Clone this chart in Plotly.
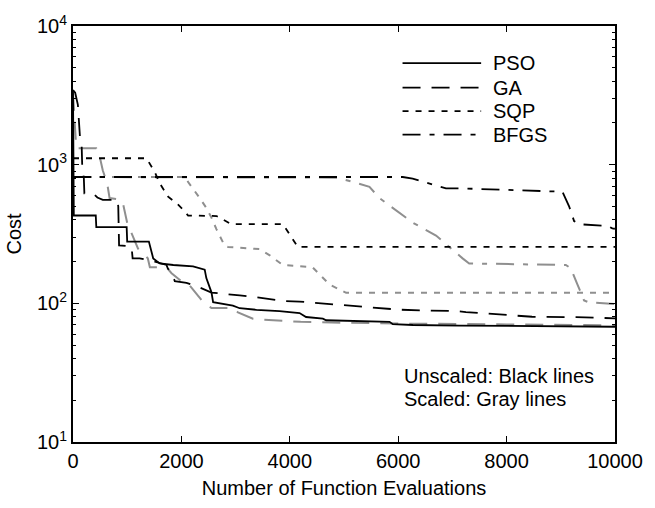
import plotly.graph_objects as go

# ---- data ----
pso_x = [0, 15, 420, 430, 990, 1000, 1400, 1480, 1600, 1850, 2215, 2430, 2460, 2520, 2555, 2585,
         2950, 3075, 3385, 3810, 4180, 4300, 4610, 4670, 5040, 5840, 5900, 6270, 7130, 8000, 10000]
pso_y = [3450, 430, 430, 354, 354, 279, 279, 211, 194, 189, 185, 175, 152, 130, 120, 102,
         96.4, 92.2, 89.8, 87.9, 85.1, 79.7, 77.5, 75.5, 74.7, 73.5, 70.8, 69.8, 69.1, 68.5, 67.8]

ga_x = [0, 40, 90, 130, 160, 170, 200, 210, 370, 450, 550, 820, 835, 850, 1080, 1100, 1230, 1390,
        1510, 1725, 1750, 1818, 1878, 2094, 2340, 2554, 2831, 3076, 3383, 3690, 3873, 4180, 4610,
        4920, 5530, 6020, 6400, 7066, 7250, 7680, 7987, 8470, 9280, 10000]
ga_y = [3450, 3300, 2700, 1550, 1365, 984, 800, 620, 620, 580, 557, 557, 500, 262, 257, 211, 211, 205,
        200, 189, 178, 168, 144.5, 140.6, 130, 119.5, 117, 114, 110.5, 106.7, 104, 103, 100,
        97, 94, 90, 89, 88, 86.5, 84.4, 82, 80, 79.5, 78]

sqp_x = [0, 1357, 1510, 1602, 1755, 1940, 2031, 2124, 2650, 2923, 3873, 4149, 10000]
sqp_y = [1112, 1112, 883, 731, 588, 515, 474, 430, 426, 372, 372, 255, 255]

bfgs_x = [0, 6083, 6267, 6882, 7127, 8109, 8969, 9030, 9153, 9245, 9337, 9705, 9858, 9950, 10000]
bfgs_y = [815, 815, 793, 675, 675, 656, 638, 638, 501, 392, 372, 366, 362, 347, 345]

ga_s_x = [0, 40, 60, 430, 480, 550, 600, 630, 675, 880, 920, 980, 1000, 1200, 1380, 1418, 1725,
          1818, 2031, 2155, 2431, 2554, 2952, 3044, 3320, 3505, 3873, 4200, 5000, 6000, 8000, 10000]
ga_s_y = [3300, 2000, 1312, 1312, 1200, 908, 800, 735, 574, 560, 531, 413, 380, 248, 211, 182, 182,
          165, 141, 134, 99, 92.7, 92.7, 85.9, 77.5, 76.2, 74.7, 73.5, 72.5, 71.5, 70.5, 69.5]

sqp_s_x = [0, 2080, 2124, 2215, 2339, 2462, 2554, 2646, 2738, 2800, 2860, 3444, 3630, 3870,
           4420, 4730, 5040, 10000]
sqp_s_y = [815, 815, 750, 674, 574, 487, 415, 343, 292, 259, 255, 246, 222, 189,
           182, 137, 119, 119]

bfgs_s_x = [0, 4886, 5470, 5654, 6268, 6698, 7188, 7310, 9092, 9184, 9306, 9429, 9521, 10000]
bfgs_s_y = [815, 806, 692, 574, 382, 308, 211, 194, 189, 179, 137, 105, 101.6, 99]

legend_names = ["PSO", "GA", "SQP", "BFGS"]
x_ticks = [0, 2000, 4000, 6000, 8000, 10000]
y_ticks = [10, 100, 1000, 10000]
y_ticktext = ["10<sup>1</sup>", "10<sup>2</sup>", "10<sup>3</sup>", "10<sup>4</sup>"]
y_minor = [m * 10 ** e for e in (1, 2, 3) for m in range(2, 10)]

# ---- styles ----
BLACK = "#000000"
GRAY = "#8f8f8f"
DASH = {"PSO": "solid", "GA": "18px,11px", "SQP": "6px,7px", "BFGS": "18px,9px,5px,9px"}
FONT = "Liberation Sans, Arial, Helvetica, sans-serif"
FS = 20

fig = go.Figure()

def add(x, y, name, color, width):
    fig.add_trace(go.Scatter(x=x, y=y, mode="lines", name=name, showlegend=False,
                             line=dict(color=color, width=width, dash=DASH[name])))

# gray (scaled) first, black on top
add(sqp_s_x, sqp_s_y, "SQP", GRAY, 2)
add(bfgs_s_x, bfgs_s_y, "BFGS", GRAY, 2)
add(ga_s_x, ga_s_y, "GA", GRAY, 2)
add(bfgs_x, bfgs_y, "BFGS", BLACK, 1.8)
add(sqp_x, sqp_y, "SQP", BLACK, 1.8)
add(ga_x, ga_y, "GA", BLACK, 1.8)
add(pso_x, pso_y, "PSO", BLACK, 1.8)

# manual legend
rows_y = [0.9106, 0.8518, 0.7953, 0.7388]
shapes = []
annotations = []
for name, ry in zip(legend_names, rows_y):
    shapes.append(dict(type="line", xref="paper", yref="paper", x0=0.608, x1=0.753, y0=ry, y1=ry,
                       line=dict(color=BLACK, width=1.8, dash=DASH[name])))
    annotations.append(dict(xref="paper", yref="paper", x=0.772, y=ry, text=name, showarrow=False,
                            xanchor="left", yanchor="middle", font=dict(size=FS, color=BLACK, family=FONT)))

annotations.append(dict(xref="paper", yref="paper", x=0.607, y=0.1593, text="Unscaled: Black lines",
                        showarrow=False, xanchor="left", yanchor="middle",
                        font=dict(size=FS, color=BLACK, family=FONT)))
annotations.append(dict(xref="paper", yref="paper", x=0.607, y=0.1042, text="Scaled: Gray lines",
                        showarrow=False, xanchor="left", yanchor="middle",
                        font=dict(size=FS, color=BLACK, family=FONT)))

fig.update_layout(
    width=655, height=508, autosize=False,
    margin=dict(l=73, r=38, t=22, b=55),
    paper_bgcolor="white", plot_bgcolor="white",
    font=dict(family=FONT, size=FS, color=BLACK),
    shapes=shapes, annotations=annotations,
    showlegend=False,
)
fig.update_xaxes(
    range=[0, 10000], tickmode="array", tickvals=x_ticks, ticktext=[str(v) for v in x_ticks],
    ticks="inside", ticklen=6, tickwidth=1, tickcolor=BLACK,
    showline=True, linecolor=BLACK, linewidth=2, mirror="ticks", showgrid=False, zeroline=False,
    title=dict(text="Number of Function Evaluations", standoff=10, font=dict(size=FS)),
    tickfont=dict(size=FS),
)
fig.update_yaxes(
    type="log", range=[1, 4], tickmode="array", tickvals=y_ticks, ticktext=y_ticktext,
    ticks="inside", ticklen=6, tickwidth=1, tickcolor=BLACK,
    minor=dict(tickmode="array", tickvals=y_minor, ticks="inside", ticklen=3, tickcolor=BLACK, showgrid=False),
    showline=True, linecolor=BLACK, linewidth=2, mirror="ticks", showgrid=False, zeroline=False,
    title=dict(text="Cost", standoff=10, font=dict(size=FS)),
    tickfont=dict(size=FS),
)

fig.write_html("out.html", config={"responsive": False, "displayModeBar": False},
               post_script="document.body.style.margin='0';document.body.style.overflow='hidden';")
